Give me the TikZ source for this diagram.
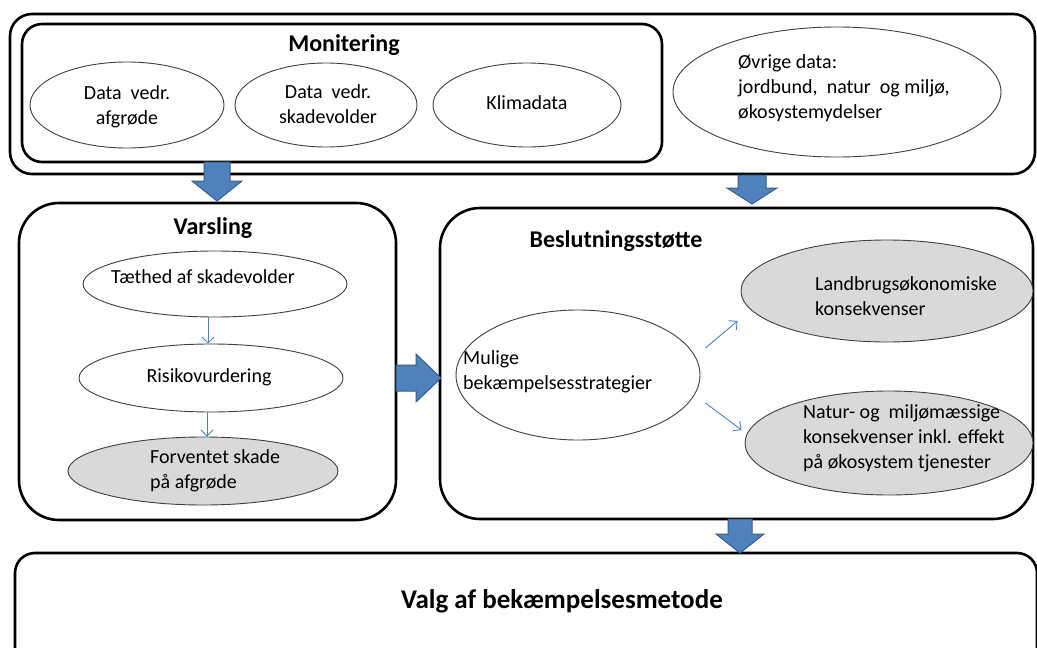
\documentclass[tikz,border=0pt]{standalone}
\usepackage{fontspec}
\setmainfont{Carlito}
\usetikzlibrary{shapes.geometric,arrows.meta,calc}
\definecolor{blfill}{HTML}{4F81BD}
\definecolor{bldraw}{HTML}{385D8A}
\definecolor{grayfill}{HTML}{D9D9D9}
\definecolor{ellline}{HTML}{404040}
\begin{document}
\begin{tikzpicture}[x=1pt,y=-1pt,
  box/.style={draw, line width=2.6pt, rounded corners=#1, inner sep=0pt},
  ell/.style={ellipse, draw=ellline, line width=0.9pt, inner sep=0pt},
  gell/.style={ell, fill=grayfill},
  txt/.style={font=\fontsize{20}{25}\selectfont, inner sep=0pt},
  ttl/.style={font=\fontsize{24}{28}\selectfont\bfseries, inner sep=0pt},
  tarr/.style={draw=blfill, line width=0.9pt, -{Straight Barb[length=6pt,width=12pt]}},
  blk/.style={fill=blfill, draw=bldraw, line width=1pt, line join=miter}]
\clip (0,0) rectangle (1037,648);
\fill[white] (0,0) rectangle (1037,648);

% outer top box and Monitering box
\node[box=22, minimum width=1025, minimum height=160] (outer) at (522.5,94) {};
\node[box=20, minimum width=640, minimum height=138] (mon) at (342,93) {};
\node[ttl] (montitle) at (344,45) {Monitering};

\node[ell, minimum width=194, minimum height=86] (E1) at (127,105) {};
\node[txt, align=center] (E1t) at (127,107) {Data\ \ vedr.\\afgrøde};
\node[ell, minimum width=182, minimum height=84] (E2) at (326,105) {};
\node[txt, align=center] (E2t) at (328,104) {Data\ \ vedr.\\skadevolder};
\node[ell, minimum width=188, minimum height=84] (E3) at (527,105) {};
\node[txt] (E3t) at (527,103) {Klimadata};

\node[ell, minimum width=328, minimum height=130] (OV) at (837,92) {};
\node[txt, align=left, anchor=west] (OVt) at (738,88) {Øvrige data:\\jordbund,\ \ natur\ \ og miljø,\\økosystemydelser};

% Varsling
\node[box=40, minimum width=377, minimum height=317] (var) at (207.5,361.5) {};
\node[ttl] (vartitle) at (213,228) {Varsling};
\node[ell, minimum width=264, minimum height=66] (T) at (215,284) {};
\node[txt] (Tt) at (203,277) {Tæthed af skadevolder};
\node[ell, minimum width=264, minimum height=68] (R) at (211,378) {};
\node[txt] (Rt) at (209,377) {Risikovurdering};
\node[gell, minimum width=270, minimum height=68] (F) at (203,471) {};
\node[txt, align=left, anchor=west] (Ft) at (150,471) {Forventet skade\\på afgrøde};

\draw[tarr] ($(T.south)+(-7,0)$) -- ($(R.north)+(-3,0)$);
\draw[tarr] ($(R.south)+(-4,0)$) -- ($(F.north)+(4,0)$);

% Beslutningsstotte
\node[box=40, minimum width=593, minimum height=311] (bes) at (736.5,363.5) {};
\node[ttl] (bestitle) at (616,241) {Beslutningsstøtte};
\node[ell, minimum width=244, minimum height=130] (M) at (578,375) {};
\node[txt, align=left, anchor=west] (Mt) at (463,372) {Mulige\\bekæmpelsesstrategier};
\node[gell, minimum width=292, minimum height=102] (L) at (887,291) {};
\node[txt, align=left, anchor=west] (Lt) at (815,296) {Landbrugsøkonomiske\\konsekvenser};
\node[gell, minimum width=288, minimum height=104] (N) at (889,443) {};
\node[txt, align=left, anchor=west] (Nt) at (803,438) {Natur- og\ \ miljømæssige\\konsekvenser inkl. effekt\\på økosystem tjenester};

\draw[tarr] ($(M.east)+(5,-27)$) -- ($(L.west)+(-3,30)$);
\draw[tarr] ($(M.east)+(5,28)$) -- ($(N.west)+(-3,-13)$);

% Valg
\node[box=20, minimum width=1022, minimum height=127] (valg) at (526,616.5) {};
\node[font=\fontsize{27}{30}\selectfont\bfseries, inner sep=0pt] (valgt) at (562,601) {Valg af bekæmpelsesmetode};

% block arrows
\draw[blk] (204,162) -- (230,162) -- (230,181) -- (242,181) -- (217,201) -- (192,181) -- (204,181) -- cycle;
\draw[blk] (738,175) -- (766,175) -- (766,188) -- (777,188) -- (752,204) -- (727,188) -- (738,188) -- cycle;
\draw[blk] (728,519) -- (752,519) -- (752,534) -- (764,534) -- (740,553) -- (716,534) -- (728,534) -- cycle;
\draw[blk] (396,365) -- (416,365) -- (416,354) -- (441,378) -- (416,402) -- (416,391) -- (396,391) -- cycle;
\end{tikzpicture}
\end{document}
